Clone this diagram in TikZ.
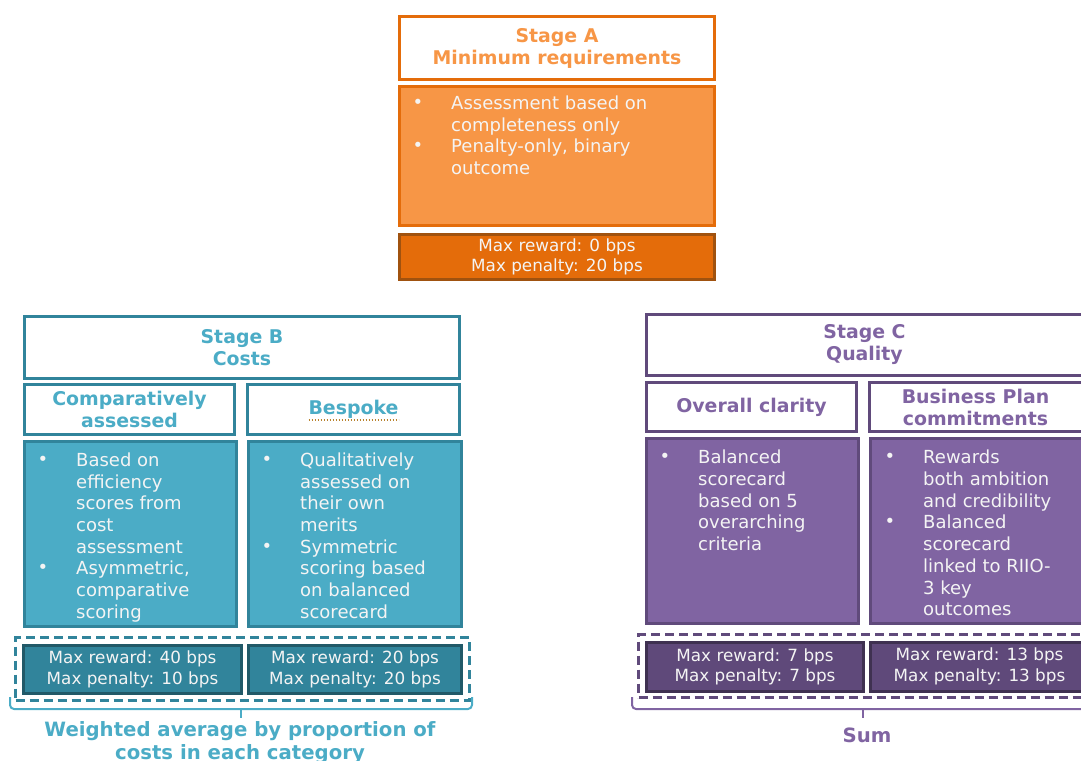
\documentclass[tikz,border=0pt]{standalone}
\usepackage{fontspec}
\usepackage{array}
\setmainfont{DejaVu Sans}
\definecolor{orD}{HTML}{E46C0A}
\definecolor{orL}{HTML}{F79646}
\definecolor{orX}{HTML}{A0520F}
\definecolor{tlD}{HTML}{31849B}
\definecolor{tlL}{HTML}{4BACC6}
\definecolor{tlX}{HTML}{215968}
\definecolor{puD}{HTML}{604A7B}
\definecolor{puL}{HTML}{8064A2}
\definecolor{puM}{HTML}{5F497A}
\definecolor{puX}{HTML}{3F3151}
\definecolor{txW}{HTML}{F4F4F4}
\definecolor{spell}{HTML}{B8822E}
\newcommand\bl{\hspace*{-0.5pt}\raisebox{1pt}{\fontsize{18}{18}\selectfont •}}
\newenvironment{blist}{\begin{tabular}{@{}p{38pt}@{}l@{}}}{\end{tabular}}
\begin{document}
\begin{tikzpicture}[x=1pt,y=-1pt,
  bx/.style={draw, line width=3pt, inner sep=0pt, anchor=north west, align=center},
  hdr/.style={bx, fill=white, font=\bfseries\fontsize{18.9}{22}\selectfont},
  body/.style={bx},
  maxb/.style={bx, text=txW, font=\fontsize{16.8}{20.5}\selectfont},
  btxt/.style={anchor=north west, inner sep=0pt, text=txW, font=\fontsize{18}{21.7}\selectfont},
  dbox/.style={draw, dashed, dash pattern=on 9pt off 5pt, line width=3pt},
  brace/.style={line width=2pt, rounded corners=4pt},
  lbl/.style={font=\bfseries\fontsize{19.7}{23}\selectfont, inner sep=0pt}]
\useasboundingbox (0,0) rectangle (1081,760);

% ---------- Stage A ----------
\node[hdr, draw=orD, text=orL, minimum width=315pt, minimum height=63pt] (aHead) at (398,15) {Stage A\\Minimum requirements};
\node[body, draw=orD, fill=orL, minimum width=315pt, minimum height=139pt] (aBody) at (398,85) {};
\node[btxt] (aText) at ([shift={(15pt,-9pt)}]aBody.north west)
  {\begin{blist}\bl & Assessment based on\\ & completeness only\\ \bl & Penalty-only, binary\\ & outcome\end{blist}};
\node[maxb, draw=orX, fill=orD, minimum width=315pt, minimum height=45pt] (aMax) at (398,233) {Max reward: 0 bps\\Max penalty: 20 bps};

% ---------- Stage B ----------
\node[hdr, draw=tlD, text=tlL, minimum width=435pt, minimum height=62pt] (bHead) at (23,315) {Stage B\\Costs};
\node[hdr, draw=tlD, text=tlL, minimum width=210pt, minimum height=50pt] (bSub1) at (23,383) {Comparatively\\assessed};
\node[hdr, draw=tlD, text=tlL, minimum width=212pt, minimum height=50pt] (bSub2) at (246,383) {Bespoke};
\draw[spell, line width=1.6pt, dash pattern=on 1.6pt off 1.4pt] ([shift={(-45pt,-10.5pt)}]bSub2.center) -- ([shift={(45pt,-10.5pt)}]bSub2.center);
\node[body, draw=tlD, fill=tlL, minimum width=212pt, minimum height=185pt] (bBody1) at (23,440) {};
\node[body, draw=tlD, fill=tlL, minimum width=213pt, minimum height=185pt] (bBody2) at (247,440) {};
\node[btxt] (bText1) at ([shift={(15pt,-11pt)}]bBody1.north west)
  {\begin{blist}\bl & Based on\\ & efficiency\\ & scores from\\ & cost\\ & assessment\\ \bl & Asymmetric,\\ & comparative\\ & scoring\end{blist}};
\node[btxt] (bText2) at ([shift={(15pt,-11pt)}]bBody2.north west)
  {\begin{blist}\bl & Qualitatively\\ & assessed on\\ & their own\\ & merits\\ \bl & Symmetric\\ & scoring based\\ & on balanced\\ & scorecard\end{blist}};
\node[dbox, draw=tlD, anchor=north west, minimum width=454pt, minimum height=63pt, inner sep=0pt] (bDash) at (14,636) {};
\node[maxb, draw=tlX, fill=tlD, minimum width=218pt, minimum height=48pt] (bMax1) at (22,644) {Max reward: 40 bps\\Max penalty: 10 bps};
\node[maxb, draw=tlX, fill=tlD, minimum width=213pt, minimum height=48pt] (bMax2) at (247,644) {Max reward: 20 bps\\Max penalty: 20 bps};
\coordinate (bBl) at (10,697);
\coordinate (bBr) at (472,697);
\coordinate (bBm) at (241,709);
\coordinate (bBt) at (241,718);
\draw[brace, draw=tlL] (bBl) |- (bBm) -| (bBr);
\draw[line width=2pt, draw=tlL] (bBm) -- (bBt);
\node[lbl, text=tlL, align=center, anchor=north] (bLbl) at (240,721) {Weighted average by proportion of\\costs in each category};

% ---------- Stage C ----------
\node[hdr, draw=puD, text=puL, minimum width=441pt, minimum height=61pt] (cHead) at (645,313) {\hspace*{-5pt}Stage C\\\hspace*{-5pt}Quality};
\node[hdr, draw=puD, text=puL, minimum width=210pt, minimum height=49pt] (cSub1) at (645,381) {Overall clarity};
\node[hdr, draw=puD, text=puL, minimum width=218pt, minimum height=49pt] (cSub2) at (868,381) {\hspace*{-6pt}Business Plan\\\hspace*{-6pt}commitments};
\node[body, draw=puD, fill=puL, minimum width=212pt, minimum height=185pt] (cBody1) at (645,437) {};
\node[body, draw=puD, fill=puL, minimum width=217pt, minimum height=185pt] (cBody2) at (869,437) {};
\node[btxt] (cText1) at ([shift={(15pt,-11.5pt)}]cBody1.north west)
  {\begin{blist}\bl & Balanced\\ & scorecard\\ & based on 5\\ & overarching\\ & criteria\end{blist}};
\node[btxt] (cText2) at ([shift={(16pt,-11.5pt)}]cBody2.north west)
  {\begin{blist}\bl & Rewards\\ & both ambition\\ & and credibility\\ \bl & Balanced\\ & scorecard\\ & linked to RIIO-\\ & 3 key\\ & outcomes\end{blist}};
\node[dbox, draw=puD, anchor=north west, minimum width=455pt, minimum height=63pt, inner sep=0pt] (cDash) at (637,633) {};
\node[maxb, draw=puX, fill=puM, minimum width=217pt, minimum height=49pt] (cMax1) at (645,641) {Max reward: 7 bps\\Max penalty: 7 bps};
\node[maxb, draw=puX, fill=puM, minimum width=218pt, minimum height=49pt] (cMax2) at (869,641) {\raisebox{2pt}{\begin{tabular}{@{}c@{}}Max reward: 13 bps\\Max penalty: 13 bps\end{tabular}}};
\coordinate (cBl) at (632,697);
\coordinate (cBr) at (1095,697);
\coordinate (cBm) at (863,709);
\coordinate (cBt) at (863,718);
\draw[brace, draw=puL] (cBl) |- (cBm) -| (cBr);
\draw[line width=2pt, draw=puL] (cBm) -- (cBt);
\node[lbl, text=puL, anchor=north] (cLbl) at (867,728) {Sum};
\end{tikzpicture}
\end{document}
